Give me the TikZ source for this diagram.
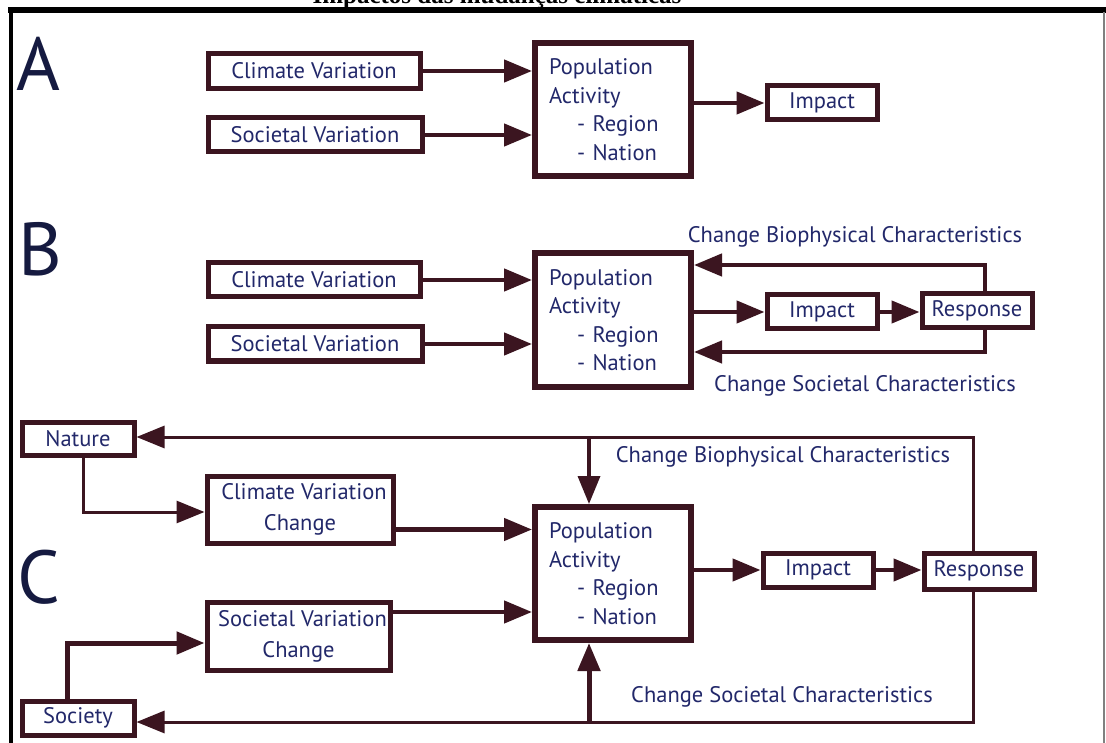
\documentclass[tikz,border=0pt]{standalone}
\usepackage{fontspec}
\setmainfont{PT Sans}
\newfontfamily\capfont{Liberation Serif}
\usetikzlibrary{arrows.meta}
\definecolor{mar}{HTML}{3B1520}
\definecolor{txt}{HTML}{22286A}
\definecolor{big}{HTML}{151A40}
\begin{document}
\begin{tikzpicture}[x=1pt,y=-1pt,
  bx/.style={draw=mar, line width=5pt, rectangle, inner sep=0pt, text=txt, font=\fontsize{22.5}{31}\selectfont, align=center},
  pop/.style={bx, line width=6pt, minimum width=156pt, minimum height=133pt, text width=128pt, align=left, inner xsep=14pt, font=\fontsize{22.5}{28.5}\selectfont},
  arr/.style={draw=mar, line width=4.5pt, -{Triangle[length=28pt,width=22pt]}},
  fb/.style={draw=mar, line width=3pt, -{Triangle[length=28pt,width=22pt]}},
  lbl/.style={text=txt, font=\fontsize{22.5}{24}\selectfont, inner sep=0pt},
  letter/.style={text=big, font=\fontsize{75}{75}\selectfont, inner sep=0pt, anchor=base west}
]
\useasboundingbox (0,0) rectangle (1106,743);
\clip (0,0) rectangle (1106,743);
\fill[white] (0,0) rectangle (1106,743);
% caption (cut off at the top edge, as in the source) and frame
\node[font=\capfont\bfseries\fontsize{25}{25}\selectfont, anchor=base, inner sep=0pt] (cap) at (497,3.5) {Impactos das mudanças climáticas};
\fill[black] (8,7) rectangle (1106,13);
\fill[black] (8.5,7) rectangle (13,743);
\draw[gray, line width=1.5pt] (1104,12) -- (1104,743);

% ---------- A ----------
\node[letter] (lA) at (16,91) {A};
\node[bx, minimum width=212pt, minimum height=35pt] (cvA) at (314,71) {Climate Variation};
\node[bx, minimum width=214pt, minimum height=34pt] (svA) at (315,135) {Societal Variation};
\node[pop] (popA) at (613,109.5) {Population\\Activity\\\hspace*{28pt}- Region\\\hspace*{28pt}- Nation};
\node[bx, minimum width=110pt, minimum height=34pt] (impA) at (822,103) {Impact};
\draw[arr] (cvA.east) -- (cvA.east -| popA.west);
\draw[arr] (svA.east) -- (svA.east -| popA.west);
\draw[arr] (popA.east |- impA.west) -- (impA.west);

% ---------- B ----------
\node[letter] (lB) at (18,276) {B};
\node[bx, minimum width=212pt, minimum height=34pt] (cvB) at (314,280) {Climate Variation};
\node[bx, minimum width=214pt, minimum height=34pt] (svB) at (315,344) {Societal Variation};
\node[pop] (popB) at (613,320) {Population\\Activity\\\hspace*{28pt}- Region\\\hspace*{28pt}- Nation};
\node[bx, minimum width=110pt, minimum height=34pt] (impB) at (822,312) {Impact};
\node[bx, minimum width=110pt, minimum height=34pt] (respB) at (977,311) {Response};
\draw[arr] (cvB.east) -- (cvB.east -| popB.west);
\draw[arr] (svB.east) -- (svB.east -| popB.west);
\draw[arr] (popB.east |- impB.west) -- (impB.west);
\draw[arr] (impB.east) -- (impB.east -| respB.west);
\coordinate (tB) at (985,265);
\coordinate (bB) at (985,352);
\draw[arr] (respB.north -| tB) -- (tB) -- (tB -| popB.east);
\draw[arr] (respB.south -| bB) -- (bB) -- (bB -| popB.east);
\node[lbl] (bioB) at (855,237) {Change Biophysical Characteristics};
\node[lbl] (socB) at (865,386) {Change Societal Characteristics};

% ---------- C ----------
\node[letter] (lC) at (17,603) {C};
\node[bx, minimum width=112pt, minimum height=33pt] (nature) at (78,438.5) {Nature};
\node[bx, minimum width=112pt, minimum height=34pt] (society) at (78,718) {Society};
\node[bx, minimum width=186pt, minimum height=67pt] (cvC) at (300,509.5) {\hspace*{8pt}Climate Variation\\Change};
\node[bx, minimum width=183pt, minimum height=68pt] (svC) at (298.5,636) {\hspace*{8pt}Societal Variation\\Change};
\node[pop] (popC) at (613,573.5) {Population\\Activity\\\hspace*{28pt}- Region\\\hspace*{28pt}- Nation};
\node[bx, minimum width=110pt, minimum height=34pt] (impC) at (818,570) {Impact};
\node[bx, minimum width=110pt, minimum height=36pt] (respC) at (979,571) {Response};
\coordinate (cvCo) at ([yshift=-20pt]cvC.east);
\coordinate (svCo) at ([yshift=24pt]svC.east);
\draw[arr] (cvCo) -- (cvCo -| popC.west);
\draw[arr] (svCo) -- (svCo -| popC.west);
\draw[arr] (popC.east |- impC.west) -- (impC.west);
\draw[arr] (impC.east) -- (impC.east -| respC.west);
\coordinate (nC) at (83,512);
\coordinate (sC) at (67,643);
\draw[fb] (nature.south -| nC) -- (nC) -- (nC -| cvC.west);
\draw[arr, line width=5pt] (society.north -| sC) -- (sC) -- (sC -| svC.west);
\coordinate (tC) at (973,437);
\coordinate (bC) at (973,722);
\coordinate (brT) at (589,437);
\coordinate (brB) at (589,722);
\draw[fb] (respC.north -| tC) -- (tC) -- (tC -| nature.east);
\draw[fb, line width=3.5pt] (brT) -- (brT |- popC.north);
\draw[fb] (respC.south -| bC) -- (bC) -- (bC -| society.east);
\draw[arr, line width=5pt] (brB) -- (brB |- popC.south);
\node[lbl] (bioC) at (783,457) {Change Biophysical Characteristics};
\node[lbl] (socC) at (782,697) {Change Societal Characteristics};
\end{tikzpicture}
\end{document}
